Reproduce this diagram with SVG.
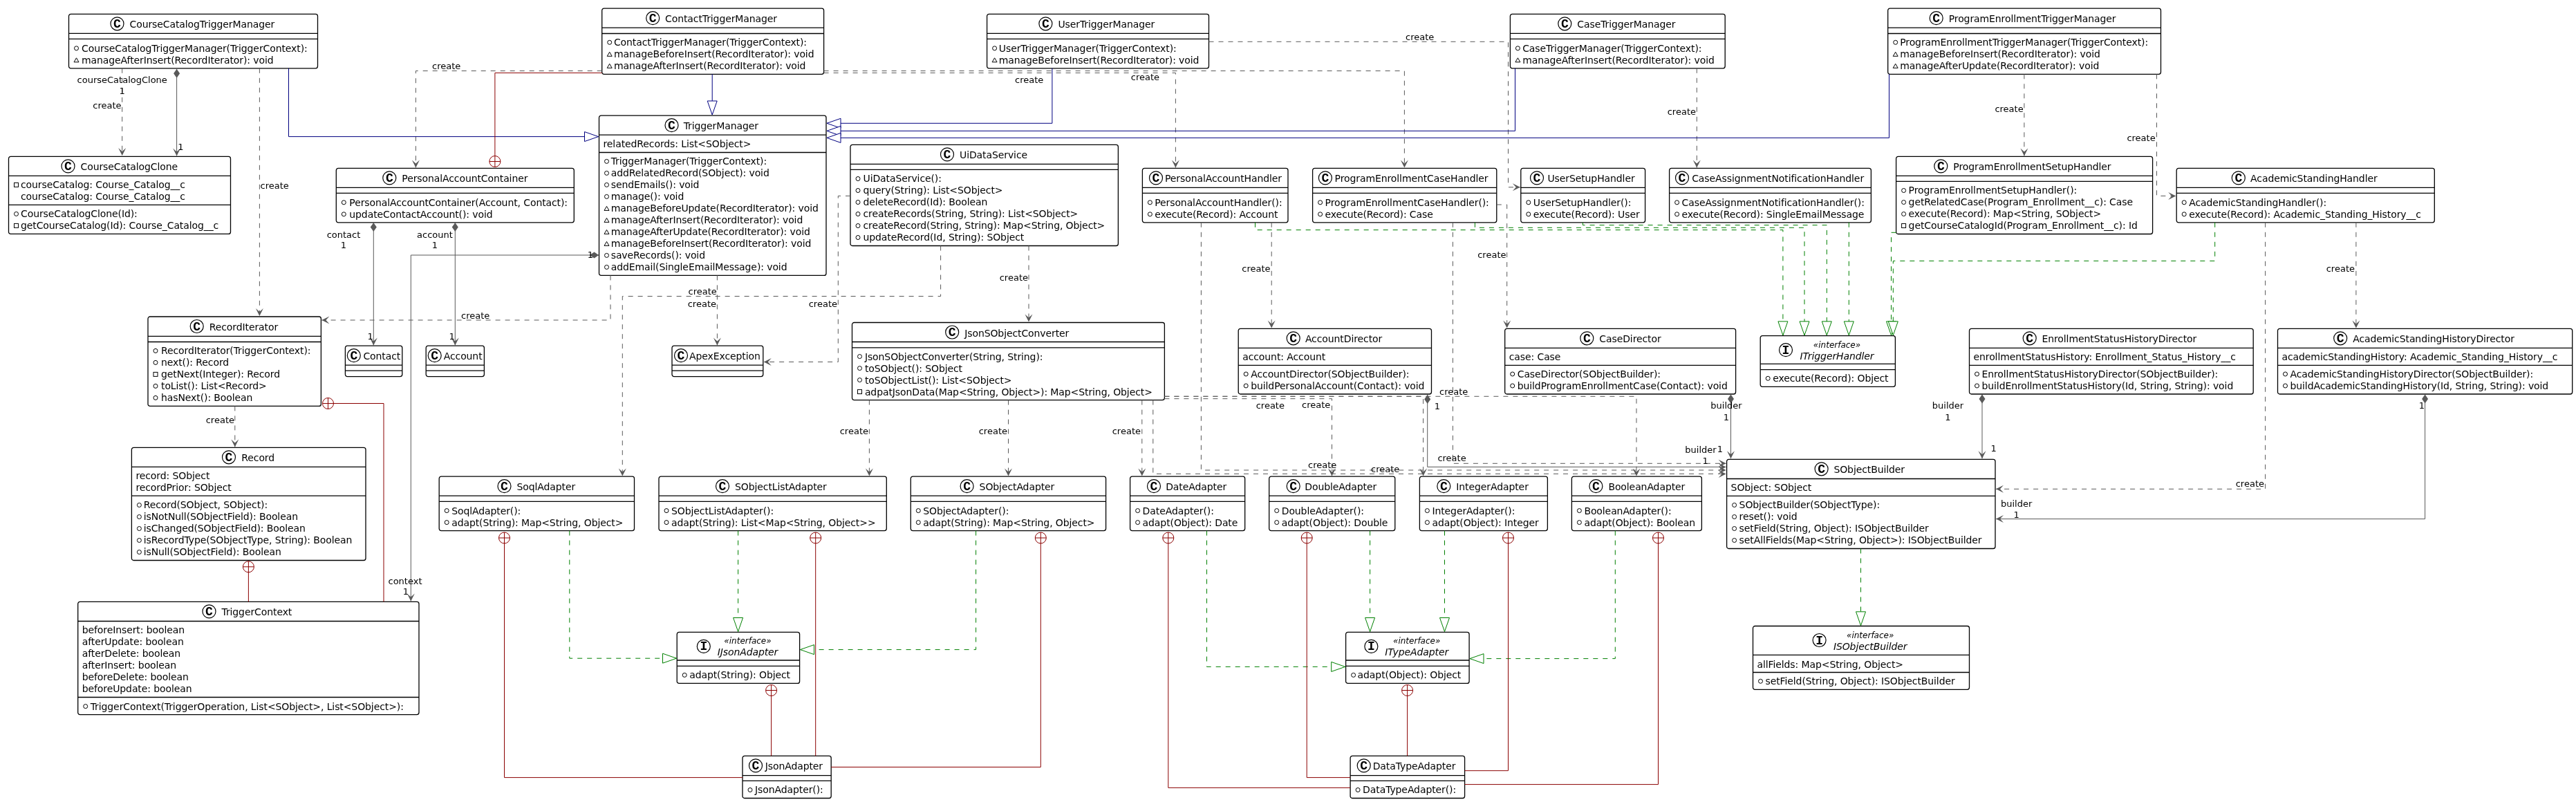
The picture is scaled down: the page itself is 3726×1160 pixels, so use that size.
<svg xmlns="http://www.w3.org/2000/svg" width="3726" height="1160" viewBox="0 0 3726 1160">
<style>
.bx{fill:#fff;stroke:#000;stroke-width:1.3}
.ln{stroke:#000;stroke-width:1.3}
.sp{fill:#fff;stroke:#000;stroke-width:1.2}
.sl{font:bold 18px "Liberation Mono",monospace;text-anchor:middle;fill:#000}
.n{font:14px "DejaVu Sans",sans-serif;letter-spacing:-.1px;fill:#000}
.i{font:italic 14px "DejaVu Sans",sans-serif;letter-spacing:-.1px;text-anchor:middle;fill:#000}
.s{font:italic 12px "DejaVu Sans",sans-serif;text-anchor:middle;fill:#000}
.l{font:13px "DejaVu Sans",sans-serif;fill:#000}
.m{text-anchor:middle}
.e{text-anchor:end}
.v{fill:none;stroke:#000;stroke-width:1}
.d,.a,.b,.g,.r{fill:none;stroke-width:1}
.d{stroke:#595959;stroke-dasharray:7 7;marker-end:url(#ah)}
.a{stroke:#595959;marker-start:url(#dm);marker-end:url(#ah)}
.b{stroke:#000080;marker-end:url(#tb)}
.g{stroke:#008000;stroke-dasharray:7 7;marker-end:url(#tg)}
.r{stroke:#8b0000;marker-start:url(#nc)}
</style>
<defs>
<marker id="ah" markerUnits="userSpaceOnUse" markerWidth="20" markerHeight="20" refX="0" refY="0" orient="auto" overflow="visible"><path d="M0,0L-11,-5.5L-6,0L-11,5.5Z" fill="#595959"/></marker>
<marker id="dm" markerUnits="userSpaceOnUse" markerWidth="20" markerHeight="20" refX="0" refY="0" orient="auto" overflow="visible"><path d="M0,0L6.5,-4.5L13,0L6.5,4.5Z" fill="#595959"/></marker>
<marker id="tb" markerUnits="userSpaceOnUse" markerWidth="30" markerHeight="20" refX="0" refY="0" orient="auto" overflow="visible"><path d="M0,0L-20,-7V7Z" fill="#fff" stroke="#000080"/></marker>
<marker id="tg" markerUnits="userSpaceOnUse" markerWidth="30" markerHeight="20" refX="0" refY="0" orient="auto" overflow="visible"><path d="M0,0L-20,-7V7Z" fill="#fff" stroke="#008000"/></marker>
<marker id="nc" markerUnits="userSpaceOnUse" markerWidth="20" markerHeight="20" refX="0" refY="0" orient="auto" overflow="visible"><circle cx="8" cy="0" r="8" fill="none" stroke="#8b0000"/><path d="M8,-8V8" fill="none" stroke="#8b0000"/></marker>
<circle id="o" r="3" class="v"/>
<path id="p" d="M-3.5,3L0,-3L3.5,3Z" class="v"/>
<rect id="q" x="-3" y="-3" width="6" height="6" class="v"/>
</defs>
<rect width="3726" height="1160" fill="#fff"/>
<g id="nodes" opacity="0.999">
<g id="CourseCatalogTriggerManager" transform="translate(99.5,20.3)"><rect class="bx" width="360" height="78.5" rx="3"/><path class="ln" d="M0,28H360M0,36H360"/><circle class="sp" cx="70" cy="14" r="9.5"/><text class="sl" x="70" y="19.5">C</text><text class="n" x="88" y="20">CourseCatalogTriggerManager</text><use href="#o" x="11" y="49.5"/><text class="n" x="18.5" y="54.5">CourseCatalogTriggerManager(TriggerContext):</text><use href="#p" x="11" y="66.5"/><text class="n" x="18.5" y="71.5">manageAfterInsert(RecordIterator): void</text></g>
<g id="CourseCatalogClone" transform="translate(12.5,226.4)"><rect class="bx" width="321" height="112" rx="3"/><path class="ln" d="M0,28H321M0,70H321"/><circle class="sp" cx="86" cy="14" r="9.5"/><text class="sl" x="86" y="19.5">C</text><text class="n" x="104" y="20">CourseCatalogClone</text><use href="#q" x="11" y="41"/><text class="n" x="17.5" y="46">courseCatalog: Course_Catalog__c</text><text class="n" x="17.5" y="63">courseCatalog: Course_Catalog__c</text><use href="#o" x="11" y="83"/><text class="n" x="17.5" y="88">CourseCatalogClone(Id):</text><use href="#q" x="11" y="100"/><text class="n" x="17.5" y="105">getCourseCatalog(Id): Course_Catalog__c</text></g>
<g id="PersonalAccountContainer" transform="translate(486.3,243.4)"><rect class="bx" width="344" height="78.4" rx="3"/><path class="ln" d="M0,28H344M0,36H344"/><circle class="sp" cx="77" cy="14" r="9.5"/><text class="sl" x="77" y="19.5">C</text><text class="n" x="95" y="20">PersonalAccountContainer</text><use href="#o" x="11" y="49.4"/><text class="n" x="19" y="54.4">PersonalAccountContainer(Account, Contact):</text><use href="#o" x="11" y="66.4"/><text class="n" x="19" y="71.4">updateContactAccount(): void</text></g>
<g id="RecordIterator" transform="translate(214,458)"><rect class="bx" width="250.4" height="129.4" rx="3"/><path class="ln" d="M0,28.4H250.4M0,36.5H250.4"/><circle class="sp" cx="70.7" cy="14" r="9.5"/><text class="sl" x="70.7" y="19.5">C</text><text class="n" x="88.7" y="20">RecordIterator</text><use href="#o" x="11" y="49.4"/><text class="n" x="19" y="54.4">RecordIterator(TriggerContext):</text><use href="#o" x="11" y="66.4"/><text class="n" x="19" y="71.4">next(): Record</text><use href="#q" x="11" y="83.4"/><text class="n" x="19" y="88.4">getNext(Integer): Record</text><use href="#o" x="11" y="100.4"/><text class="n" x="19" y="105.4">toList(): List&lt;Record&gt;</text><use href="#o" x="11" y="117.4"/><text class="n" x="19" y="122.4">hasNext(): Boolean</text></g>
<g id="Contact" transform="translate(499.4,500.2)"><rect class="bx" width="82.4" height="44.4" rx="3"/><path class="ln" d="M0,28H82.4M0,36H82.4"/><circle class="sp" cx="12.4" cy="14" r="9.5"/><text class="sl" x="12.4" y="19.5">C</text><text class="n" x="26" y="20">Contact</text></g>
<g id="Account" transform="translate(616.2,500.2)"><rect class="bx" width="84.2" height="44.4" rx="3"/><path class="ln" d="M0,28H84.2M0,36H84.2"/><circle class="sp" cx="12.5" cy="14" r="9.5"/><text class="sl" x="12.5" y="19.5">C</text><text class="n" x="25.5" y="20">Account</text></g>
<g id="ContactTriggerManager" transform="translate(870.7,12.2)"><rect class="bx" width="320.9" height="95.1" rx="3"/><path class="ln" d="M0,28H320.9M0,36.3H320.9"/><circle class="sp" cx="73.5" cy="14" r="9.5"/><text class="sl" x="73.5" y="19.5">C</text><text class="n" x="91.3" y="20">ContactTriggerManager</text><use href="#o" x="11" y="49.1"/><text class="n" x="17.2" y="54.1">ContactTriggerManager(TriggerContext):</text><use href="#p" x="11" y="66.1"/><text class="n" x="17.2" y="71.1">manageBeforeInsert(RecordIterator): void</text><use href="#p" x="11" y="83.1"/><text class="n" x="17.2" y="88.1">manageAfterInsert(RecordIterator): void</text></g>
<g id="TriggerManager" transform="translate(866.5,167.2)"><rect class="bx" width="328.5" height="231.2" rx="3"/><path class="ln" d="M0,28H328.5M0,53.3H328.5"/><circle class="sp" cx="105" cy="14" r="9.5"/><text class="sl" x="105" y="19.5">C</text><text class="n" x="122.2" y="20">TriggerManager</text><text class="n" x="6" y="46.3">relatedRecords: List&lt;SObject&gt;</text><use href="#o" x="11" y="66.2"/><text class="n" x="17.2" y="71.2">TriggerManager(TriggerContext):</text><use href="#o" x="11" y="83.2"/><text class="n" x="17.2" y="88.2">addRelatedRecord(SObject): void</text><use href="#o" x="11" y="100.2"/><text class="n" x="17.2" y="105.2">sendEmails(): void</text><use href="#o" x="11" y="117.2"/><text class="n" x="17.2" y="122.2">manage(): void</text><use href="#p" x="11" y="134.2"/><text class="n" x="17.2" y="139.2">manageBeforeUpdate(RecordIterator): void</text><use href="#p" x="11" y="151.2"/><text class="n" x="17.2" y="156.2">manageAfterInsert(RecordIterator): void</text><use href="#p" x="11" y="168.2"/><text class="n" x="17.2" y="173.2">manageAfterUpdate(RecordIterator): void</text><use href="#p" x="11" y="185.2"/><text class="n" x="17.2" y="190.2">manageBeforeInsert(RecordIterator): void</text><use href="#o" x="11" y="202.2"/><text class="n" x="17.2" y="207.2">saveRecords(): void</text><use href="#o" x="11" y="219.2"/><text class="n" x="17.2" y="224.2">addEmail(SingleEmailMessage): void</text></g>
<g id="UserTriggerManager" transform="translate(1427.6,20.3)"><rect class="bx" width="320.9" height="78.5" rx="3"/><path class="ln" d="M0,28H320.9M0,36H320.9"/><circle class="sp" cx="84.8" cy="14" r="9.5"/><text class="sl" x="84.8" y="19.5">C</text><text class="n" x="102.8" y="20">UserTriggerManager</text><use href="#o" x="11" y="49.5"/><text class="n" x="17.2" y="54.5">UserTriggerManager(TriggerContext):</text><use href="#p" x="11" y="66.5"/><text class="n" x="17.2" y="71.5">manageBeforeInsert(RecordIterator): void</text></g>
<g id="UiDataService" transform="translate(1230,209.4)"><rect class="bx" width="387.4" height="146.1" rx="3"/><path class="ln" d="M0,28H387.4M0,36H387.4"/><circle class="sp" cx="140" cy="14" r="9.5"/><text class="sl" x="140" y="19.5">C</text><text class="n" x="158" y="20">UiDataService</text><use href="#o" x="11" y="49.1"/><text class="n" x="18.5" y="54.1">UiDataService():</text><use href="#o" x="11" y="66.1"/><text class="n" x="18.5" y="71.1">query(String): List&lt;SObject&gt;</text><use href="#o" x="11" y="83.1"/><text class="n" x="18.5" y="88.1">deleteRecord(Id): Boolean</text><use href="#o" x="11" y="100.1"/><text class="n" x="18.5" y="105.1">createRecords(String, String): List&lt;SObject&gt;</text><use href="#o" x="11" y="117.1"/><text class="n" x="18.5" y="122.1">createRecord(String, String): Map&lt;String, Object&gt;</text><use href="#o" x="11" y="134.1"/><text class="n" x="18.5" y="139.1">updateRecord(Id, String): SObject</text></g>
<g id="ApexException" transform="translate(972,500.2)"><rect class="bx" width="131.8" height="44.4" rx="3"/><path class="ln" d="M0,28H131.8M0,36H131.8"/><circle class="sp" cx="13" cy="14" r="9.5"/><text class="sl" x="13" y="19.5">C</text><text class="n" x="25" y="20">ApexException</text></g>
<g id="JsonSObjectConverter" transform="translate(1232.5,466.5)"><rect class="bx" width="451.9" height="112.1" rx="3"/><path class="ln" d="M0,28H451.9M0,36.3H451.9"/><circle class="sp" cx="144.7" cy="14" r="9.5"/><text class="sl" x="144.7" y="19.5">C</text><text class="n" x="162.7" y="20">JsonSObjectConverter</text><use href="#o" x="11" y="49.1"/><text class="n" x="18.4" y="54.1">JsonSObjectConverter(String, String):</text><use href="#o" x="11" y="66.1"/><text class="n" x="18.4" y="71.1">toSObject(): SObject</text><use href="#o" x="11" y="83.1"/><text class="n" x="18.4" y="88.1">toSObjectList(): List&lt;SObject&gt;</text><use href="#q" x="11" y="100.1"/><text class="n" x="18.4" y="105.1">adpatJsonData(Map&lt;String, Object&gt;): Map&lt;String, Object&gt;</text></g>
<g id="PersonalAccountHandler" transform="translate(1652.4,243.4)"><rect class="bx" width="210.6" height="78.4" rx="3"/><path class="ln" d="M0,28H210.6M0,36H210.6"/><circle class="sp" cx="19.6" cy="14" r="9.5"/><text class="sl" x="19.6" y="19.5">C</text><text class="n" x="32.6" y="20">PersonalAccountHandler</text><use href="#o" x="11" y="49.4"/><text class="n" x="17.8" y="54.4">PersonalAccountHandler():</text><use href="#o" x="11" y="66.4"/><text class="n" x="17.8" y="71.4">execute(Record): Account</text></g>
<g id="AccountDirector" transform="translate(1791.2,475.3)"><rect class="bx" width="279.3" height="94.7" rx="3"/><path class="ln" d="M0,28H279.3M0,53H279.3"/><circle class="sp" cx="79.5" cy="14" r="9.5"/><text class="sl" x="79.5" y="19.5">C</text><text class="n" x="96.7" y="20">AccountDirector</text><text class="n" x="6" y="46">account: Account</text><use href="#o" x="11" y="65.7"/><text class="n" x="18" y="70.7">AccountDirector(SObjectBuilder):</text><use href="#o" x="11" y="82.7"/><text class="n" x="18" y="87.7">buildPersonalAccount(Contact): void</text></g>
<g id="ProgramEnrollmentCaseHandler" transform="translate(1898.6,243.4)"><rect class="bx" width="266.2" height="78.4" rx="3"/><path class="ln" d="M0,28H266.2M0,36H266.2"/><circle class="sp" cx="18.3" cy="14" r="9.5"/><text class="sl" x="18.3" y="19.5">C</text><text class="n" x="32" y="20">ProgramEnrollmentCaseHandler</text><use href="#o" x="11" y="49.4"/><text class="n" x="18" y="54.4">ProgramEnrollmentCaseHandler():</text><use href="#o" x="11" y="66.4"/><text class="n" x="18" y="71.4">execute(Record): Case</text></g>
<g id="UserSetupHandler" transform="translate(2199.8,243.4)"><rect class="bx" width="179.8" height="78.4" rx="3"/><path class="ln" d="M0,28H179.8M0,36H179.8"/><circle class="sp" cx="23.2" cy="14" r="9.5"/><text class="sl" x="23.2" y="19.5">C</text><text class="n" x="38.6" y="20">UserSetupHandler</text><use href="#o" x="11" y="49.4"/><text class="n" x="18" y="54.4">UserSetupHandler():</text><use href="#o" x="11" y="66.4"/><text class="n" x="18" y="71.4">execute(Record): User</text></g>
<g id="CaseAssignmentNotificationHandler" transform="translate(2414.6,243.4)"><rect class="bx" width="291.8" height="78.4" rx="3"/><path class="ln" d="M0,28H291.8M0,36H291.8"/><circle class="sp" cx="18.4" cy="14" r="9.5"/><text class="sl" x="18.4" y="19.5">C</text><text class="n" x="32.6" y="20">CaseAssignmentNotificationHandler</text><use href="#o" x="11" y="49.4"/><text class="n" x="18" y="54.4">CaseAssignmentNotificationHandler():</text><use href="#o" x="11" y="66.4"/><text class="n" x="18" y="71.4">execute(Record): SingleEmailMessage</text></g>
<g id="CaseTriggerManager" transform="translate(2184.4,20.3)"><rect class="bx" width="310.8" height="78.5" rx="3"/><path class="ln" d="M0,28H310.8M0,36H310.8"/><circle class="sp" cx="78.9" cy="14" r="9.5"/><text class="sl" x="78.9" y="19.5">C</text><text class="n" x="96.9" y="20">CaseTriggerManager</text><use href="#o" x="11" y="49.5"/><text class="n" x="17.8" y="54.5">CaseTriggerManager(TriggerContext):</text><use href="#p" x="11" y="66.5"/><text class="n" x="17.8" y="71.5">manageAfterInsert(RecordIterator): void</text></g>
<g id="ProgramEnrollmentTriggerManager" transform="translate(2730.7,12.2)"><rect class="bx" width="394.8" height="95.1" rx="3"/><path class="ln" d="M0,28H394.8M0,36.3H394.8"/><circle class="sp" cx="70" cy="14" r="9.5"/><text class="sl" x="70" y="19.5">C</text><text class="n" x="88" y="20">ProgramEnrollmentTriggerManager</text><use href="#o" x="11" y="49.1"/><text class="n" x="17.5" y="54.1">ProgramEnrollmentTriggerManager(TriggerContext):</text><use href="#p" x="11" y="66.1"/><text class="n" x="17.5" y="71.1">manageBeforeInsert(RecordIterator): void</text><use href="#p" x="11" y="83.1"/><text class="n" x="17.5" y="88.1">manageAfterUpdate(RecordIterator): void</text></g>
<g id="ProgramEnrollmentSetupHandler" transform="translate(2742.6,226.4)"><rect class="bx" width="371" height="112.1" rx="3"/><path class="ln" d="M0,28H371M0,36H371"/><circle class="sp" cx="64.7" cy="14" r="9.5"/><text class="sl" x="64.7" y="19.5">C</text><text class="n" x="82.7" y="20">ProgramEnrollmentSetupHandler</text><use href="#o" x="11" y="49.1"/><text class="n" x="18" y="54.1">ProgramEnrollmentSetupHandler():</text><use href="#o" x="11" y="66.1"/><text class="n" x="18" y="71.1">getRelatedCase(Program_Enrollment__c): Case</text><use href="#o" x="11" y="83.1"/><text class="n" x="18" y="88.1">execute(Record): Map&lt;String, SObject&gt;</text><use href="#q" x="11" y="100.1"/><text class="n" x="18" y="105.1">getCourseCatalogId(Program_Enrollment__c): Id</text></g>
<g id="AcademicStandingHandler" transform="translate(3148.2,243.4)"><rect class="bx" width="373.1" height="78.4" rx="3"/><path class="ln" d="M0,28H373.1M0,36H373.1"/><circle class="sp" cx="89.6" cy="14" r="9.5"/><text class="sl" x="89.6" y="19.5">C</text><text class="n" x="106.9" y="20">AcademicStandingHandler</text><use href="#o" x="11" y="49.4"/><text class="n" x="18" y="54.4">AcademicStandingHandler():</text><use href="#o" x="11" y="66.4"/><text class="n" x="18" y="71.4">execute(Record): Academic_Standing_History__c</text></g>
<g id="CaseDirector" transform="translate(2176.7,475.3)"><rect class="bx" width="333.9" height="94.7" rx="3"/><path class="ln" d="M0,28H333.9M0,53H333.9"/><circle class="sp" cx="118.6" cy="14" r="9.5"/><text class="sl" x="118.6" y="19.5">C</text><text class="n" x="136.6" y="20">CaseDirector</text><text class="n" x="6" y="46">case: Case</text><use href="#o" x="11" y="65.7"/><text class="n" x="18" y="70.7">CaseDirector(SObjectBuilder):</text><use href="#o" x="11" y="82.7"/><text class="n" x="18" y="87.7">buildProgramEnrollmentCase(Contact): void</text></g>
<g id="ITriggerHandler" transform="translate(2546.2,485.7)"><rect class="bx" width="195.2" height="73.6" rx="3"/><path class="ln" d="M0,40.7H195.2M0,48.9H195.2"/><circle class="sp" cx="36.8" cy="20.5" r="9.5"/><text class="sl" x="36.8" y="26">I</text><text class="s" x="110.8" y="17">«interface»</text><text class="i" x="110.8" y="34">ITriggerHandler</text><use href="#o" x="11" y="61.6"/><text class="n" x="18" y="66.6">execute(Record): Object</text></g>
<g id="EnrollmentStatusHistoryDirector" transform="translate(2848.5,475.3)"><rect class="bx" width="410.7" height="94.7" rx="3"/><path class="ln" d="M0,28H410.7M0,53H410.7"/><circle class="sp" cx="87.2" cy="14" r="9.5"/><text class="sl" x="87.2" y="19.5">C</text><text class="n" x="105" y="20">EnrollmentStatusHistoryDirector</text><text class="n" x="6" y="46">enrollmentStatusHistory: Enrollment_Status_History__c</text><use href="#o" x="11" y="65.7"/><text class="n" x="18" y="70.7">EnrollmentStatusHistoryDirector(SObjectBuilder):</text><use href="#o" x="11" y="82.7"/><text class="n" x="18" y="87.7">buildEnrollmentStatusHistory(Id, String, String): void</text></g>
<g id="AcademicStandingHistoryDirector" transform="translate(3294.5,475.3)"><rect class="bx" width="426.2" height="94.7" rx="3"/><path class="ln" d="M0,28H426.2M0,53H426.2"/><circle class="sp" cx="90.7" cy="14" r="9.5"/><text class="sl" x="90.7" y="19.5">C</text><text class="n" x="108.7" y="20">AcademicStandingHistoryDirector</text><text class="n" x="6" y="46">academicStandingHistory: Academic_Standing_History__c</text><use href="#o" x="11" y="65.7"/><text class="n" x="18" y="70.7">AcademicStandingHistoryDirector(SObjectBuilder):</text><use href="#o" x="11" y="82.7"/><text class="n" x="18" y="87.7">buildAcademicStandingHistory(Id, String, String): void</text></g>
<g id="Record" transform="translate(190.4,647.3)"><rect class="bx" width="338.6" height="163.2" rx="3"/><path class="ln" d="M0,28.1H338.6M0,69.9H338.6"/><circle class="sp" cx="140.6" cy="14" r="9.5"/><text class="sl" x="140.6" y="19.5">C</text><text class="n" x="158.9" y="20">Record</text><text class="n" x="6" y="45.9">record: SObject</text><text class="n" x="6" y="62.9">recordPrior: SObject</text><use href="#o" x="11" y="83.2"/><text class="n" x="17.3" y="88.2">Record(SObject, SObject):</text><use href="#o" x="11" y="100.2"/><text class="n" x="17.3" y="105.2">isNotNull(SObjectField): Boolean</text><use href="#o" x="11" y="117.2"/><text class="n" x="17.3" y="122.2">isChanged(SObjectField): Boolean</text><use href="#o" x="11" y="134.2"/><text class="n" x="17.3" y="139.2">isRecordType(SObjectType, String): Boolean</text><use href="#o" x="11" y="151.2"/><text class="n" x="17.3" y="156.2">isNull(SObjectField): Boolean</text></g>
<g id="TriggerContext" transform="translate(112.7,870.4)"><rect class="bx" width="493.3" height="163.2" rx="3"/><path class="ln" d="M0,28.1H493.3M0,138.1H493.3"/><circle class="sp" cx="189.8" cy="14" r="9.5"/><text class="sl" x="189.8" y="19.5">C</text><text class="n" x="207.8" y="20">TriggerContext</text><text class="n" x="6" y="46.1">beforeInsert: boolean</text><text class="n" x="6" y="63.1">afterUpdate: boolean</text><text class="n" x="6" y="80.1">afterDelete: boolean</text><text class="n" x="6" y="97.1">afterInsert: boolean</text><text class="n" x="6" y="114.1">beforeDelete: boolean</text><text class="n" x="6" y="131.1">beforeUpdate: boolean</text><use href="#o" x="11" y="151.2"/><text class="n" x="18" y="156.2">TriggerContext(TriggerOperation, List&lt;SObject&gt;, List&lt;SObject&gt;):</text></g>
<g id="SoqlAdapter" transform="translate(635.2,689.2)"><rect class="bx" width="282.3" height="78.4" rx="3"/><path class="ln" d="M0,28H282.3M0,36.2H282.3"/><circle class="sp" cx="94.3" cy="14" r="9.5"/><text class="sl" x="94.3" y="19.5">C</text><text class="n" x="112.3" y="20">SoqlAdapter</text><use href="#o" x="11" y="49.4"/><text class="n" x="18" y="54.4">SoqlAdapter():</text><use href="#o" x="11" y="66.4"/><text class="n" x="18" y="71.4">adapt(String): Map&lt;String, Object&gt;</text></g>
<g id="SObjectListAdapter" transform="translate(953,689.2)"><rect class="bx" width="329.3" height="78.4" rx="3"/><path class="ln" d="M0,28H329.3M0,36.2H329.3"/><circle class="sp" cx="92" cy="14" r="9.5"/><text class="sl" x="92" y="19.5">C</text><text class="n" x="110" y="20">SObjectListAdapter</text><use href="#o" x="11" y="49.4"/><text class="n" x="18" y="54.4">SObjectListAdapter():</text><use href="#o" x="11" y="66.4"/><text class="n" x="18" y="71.4">adapt(String): List&lt;Map&lt;String, Object&gt;&gt;</text></g>
<g id="SObjectAdapter" transform="translate(1317.3,689.2)"><rect class="bx" width="282.3" height="78.4" rx="3"/><path class="ln" d="M0,28H282.3M0,36.2H282.3"/><circle class="sp" cx="81.3" cy="14" r="9.5"/><text class="sl" x="81.3" y="19.5">C</text><text class="n" x="99.3" y="20">SObjectAdapter</text><use href="#o" x="11" y="49.4"/><text class="n" x="18" y="54.4">SObjectAdapter():</text><use href="#o" x="11" y="66.4"/><text class="n" x="18" y="71.4">adapt(String): Map&lt;String, Object&gt;</text></g>
<g id="DateAdapter" transform="translate(1634.6,689.2)"><rect class="bx" width="166.1" height="78.4" rx="3"/><path class="ln" d="M0,28H166.1M0,36.2H166.1"/><circle class="sp" cx="34.4" cy="14" r="9.5"/><text class="sl" x="34.4" y="19.5">C</text><text class="n" x="51.6" y="20">DateAdapter</text><use href="#o" x="11" y="49.4"/><text class="n" x="18" y="54.4">DateAdapter():</text><use href="#o" x="11" y="66.4"/><text class="n" x="18" y="71.4">adapt(Object): Date</text></g>
<g id="DoubleAdapter" transform="translate(1835.7,689.2)"><rect class="bx" width="182.1" height="78.4" rx="3"/><path class="ln" d="M0,28H182.1M0,36.2H182.1"/><circle class="sp" cx="35" cy="14" r="9.5"/><text class="sl" x="35" y="19.5">C</text><text class="n" x="51.6" y="20">DoubleAdapter</text><use href="#o" x="11" y="49.4"/><text class="n" x="18" y="54.4">DoubleAdapter():</text><use href="#o" x="11" y="66.4"/><text class="n" x="18" y="71.4">adapt(Object): Double</text></g>
<g id="IntegerAdapter" transform="translate(2053.4,689.2)"><rect class="bx" width="185" height="78.4" rx="3"/><path class="ln" d="M0,28H185M0,36.2H185"/><circle class="sp" cx="34.9" cy="14" r="9.5"/><text class="sl" x="34.9" y="19.5">C</text><text class="n" x="52.9" y="20">IntegerAdapter</text><use href="#o" x="11" y="49.4"/><text class="n" x="18" y="54.4">IntegerAdapter():</text><use href="#o" x="11" y="66.4"/><text class="n" x="18" y="71.4">adapt(Object): Integer</text></g>
<g id="BooleanAdapter" transform="translate(2273.4,689.2)"><rect class="bx" width="188" height="78.4" rx="3"/><path class="ln" d="M0,28H188M0,36.2H188"/><circle class="sp" cx="35" cy="14" r="9.5"/><text class="sl" x="35" y="19.5">C</text><text class="n" x="53" y="20">BooleanAdapter</text><use href="#o" x="11" y="49.4"/><text class="n" x="18" y="54.4">BooleanAdapter():</text><use href="#o" x="11" y="66.4"/><text class="n" x="18" y="71.4">adapt(Object): Boolean</text></g>
<g id="IJsonAdapter" transform="translate(979.2,914.4)"><rect class="bx" width="177.4" height="74" rx="3"/><path class="ln" d="M0,40.6H177.4M0,49H177.4"/><circle class="sp" cx="38.6" cy="20.5" r="9.5"/><text class="sl" x="38.6" y="26">I</text><text class="s" x="102.3" y="17">«interface»</text><text class="i" x="102.3" y="34">IJsonAdapter</text><use href="#o" x="11" y="62"/><text class="n" x="18" y="67">adapt(String): Object</text></g>
<g id="JsonAdapter" transform="translate(1074,1093.4)"><rect class="bx" width="128.2" height="61.1" rx="3"/><path class="ln" d="M0,28.2H128.2M0,36H128.2"/><circle class="sp" cx="19" cy="14" r="9.5"/><text class="sl" x="19" y="19.5">C</text><text class="n" x="32.7" y="20">JsonAdapter</text><use href="#o" x="11" y="49.1"/><text class="n" x="18" y="54.1">JsonAdapter():</text></g>
<g id="ITypeAdapter" transform="translate(1946.6,914.4)"><rect class="bx" width="178.5" height="74" rx="3"/><path class="ln" d="M0,40.6H178.5M0,49H178.5"/><circle class="sp" cx="36.8" cy="20.5" r="9.5"/><text class="sl" x="36.8" y="26">I</text><text class="s" x="102.6" y="17">«interface»</text><text class="i" x="102.6" y="34">ITypeAdapter</text><use href="#o" x="11" y="62"/><text class="n" x="17" y="67">adapt(Object): Object</text></g>
<g id="DataTypeAdapter" transform="translate(1953.1,1093.4)"><rect class="bx" width="165.5" height="61.1" rx="3"/><path class="ln" d="M0,28.2H165.5M0,36H165.5"/><circle class="sp" cx="19.6" cy="14" r="9.5"/><text class="sl" x="19.6" y="19.5">C</text><text class="n" x="32.6" y="20">DataTypeAdapter</text><use href="#o" x="11" y="49.1"/><text class="n" x="18" y="54.1">DataTypeAdapter():</text></g>
<g id="SObjectBuilder" transform="translate(2497.6,664.3)"><rect class="bx" width="388.4" height="129.2" rx="3"/><path class="ln" d="M0,28.2H388.4M0,53H388.4"/><circle class="sp" cx="137" cy="14" r="9.5"/><text class="sl" x="137" y="19.5">C</text><text class="n" x="154.8" y="20">SObjectBuilder</text><text class="n" x="6" y="46">SObject: SObject</text><use href="#o" x="11" y="66.2"/><text class="n" x="18" y="71.2">SObjectBuilder(SObjectType):</text><use href="#o" x="11" y="83.2"/><text class="n" x="18" y="88.2">reset(): void</text><use href="#o" x="11" y="100.2"/><text class="n" x="18" y="105.2">setField(String, Object): ISObjectBuilder</text><use href="#o" x="11" y="117.2"/><text class="n" x="18" y="122.2">setAllFields(Map&lt;String, Object&gt;): ISObjectBuilder</text></g>
<g id="ISObjectBuilder" transform="translate(2535.5,905.5)"><rect class="bx" width="313" height="91.8" rx="3"/><path class="ln" d="M0,41.8H313M0,67H313"/><circle class="sp" cx="96.1" cy="20.5" r="9.5"/><text class="sl" x="96.1" y="26">I</text><text class="s" x="169.7" y="17.5">«interface»</text><text class="i" x="169.7" y="34">ISObjectBuilder</text><text class="n" x="6" y="60">allFields: Map&lt;String, Object&gt;</text><use href="#o" x="11" y="79.8"/><text class="n" x="18" y="84.8">setField(String, Object): ISObjectBuilder</text></g>
</g>
<g id="connectors" opacity="0.999">
<path class="d" d="M176.7,98.8V225"/>
<path class="d" d="M375.4,98.8V457"/>
<path class="d" d="M870.7,102.5H601.4V242.5"/>
<path class="d" d="M883,398.4V463H465.4"/>
<path class="d" d="M339.8,587.4V646.5"/>
<path class="d" d="M1230,283.4H1212.3V523.5H1104.8"/>
<path class="d" d="M1360.6,355.5V428.5H900.3V688.5"/>
<path class="d" d="M1037.4,398.4V499.5"/>
<path class="d" d="M1488,355.5V465.5"/>
<path class="d" d="M1191.6,105.4H1700.4V242.5"/>
<path class="d" d="M1191.6,102.5H2031.4V242.5"/>
<path class="d" d="M1748.5,60.3H2181.5V270.8H2198.8"/>
<path class="d" d="M2164.8,296H2179.7V474.5"/>
<path class="d" d="M2454.3,98.8V242.5"/>
<path class="d" d="M2927.9,107.3V225.5"/>
<path class="d" d="M3119.5,107.3V283.4H3147.2"/>
<path class="d" d="M1839.2,321.8V474.5"/>
<path class="d" d="M1257.4,578.6V688.5"/>
<path class="d" d="M1458.5,578.6V688.5"/>
<path class="d" d="M1651.8,578.6V688.5"/>
<path class="d" d="M1667.8,578.6V685.4H2496.6"/>
<path class="d" d="M1737.4,321.8V680H2496.6"/>
<path class="d" d="M2101.4,321.8V670.3H2496.6"/>
<path class="d" d="M1684.4,573.3H2367V688.5"/>
<path class="d" d="M1684.4,576.7H1926.5V688.5"/>
<path class="d" d="M1684.4,573.3H2058.6V688.5"/>
<path class="d" d="M3407.9,321.8V474.5"/>
<path class="d" d="M3276.6,321.8V707.3H2887"/>
<path class="a" d="M255.6,99.8V225.5"/>
<path class="a" d="M540.3,322V499.5"/>
<path class="a" d="M658.3,322V499.5"/>
<path class="a" d="M866,369H594.3V869.5"/>
<path class="a" d="M2064.7,571V675.4H2496.6"/>
<path class="a" d="M2503.5,570.5V663.3"/>
<path class="a" d="M2867,570.5V663.3"/>
<path class="a" d="M3507.6,570.5V750.6H2887"/>
<path class="b" d="M417.5,98.8V197.6H865.5"/>
<path class="b" d="M1030.2,107.3V166"/>
<path class="b" d="M1521.9,98.8V178.3H1196"/>
<path class="b" d="M2191.5,98.8V189.4H1196"/>
<path class="b" d="M2732.5,107.3V199.4H1196"/>
<path class="g" d="M823.8,767.6V952.2H978.5"/>
<path class="g" d="M1067.6,767.6V913.5"/>
<path class="g" d="M1411.6,767.6V939.6H1157.5"/>
<path class="g" d="M1745.5,767.6V964.4H1945.7"/>
<path class="g" d="M1981.6,767.6V913.5"/>
<path class="g" d="M2089.5,767.6V913.5"/>
<path class="g" d="M2336.3,767.6V952.6H2126"/>
<path class="g" d="M2691.5,793.5V904.8"/>
<path class="g" d="M1815.5,321.8V332.6H2578.9V484.9"/>
<path class="g" d="M2133.4,321.8V329.3H2610V484.9"/>
<path class="g" d="M2289.4,321.8V325.6H2642.3V484.9"/>
<path class="g" d="M2674.3,321.8V484.9"/>
<path class="g" d="M2742.6,336.3H2735.5V484.9"/>
<path class="g" d="M3203.7,321.8V377.4H2738.3V484.9"/>
<path class="r" d="M729.5,770V1124.6H1074"/>
<path class="r" d="M1179.7,770V1093.4"/>
<path class="r" d="M1505.3,770V1109.5H1202.2"/>
<path class="r" d="M1115.6,990.5V1093.4"/>
<path class="r" d="M1689.8,770V1139.4H1953.1"/>
<path class="r" d="M1890.2,770V1124.6H1953.1"/>
<path class="r" d="M2181.5,770V1114.7H2118.6"/>
<path class="r" d="M2398.5,770V1134.6H2118.6"/>
<path class="r" d="M2035.6,990.5V1093.4"/>
<path class="r" d="M715.9,241.5V105.4H870.7"/>
<path class="r" d="M466.5,583.5H555V870.4"/>
<path class="r" d="M359.4,811.8V870.4"/>
<text class="l m" x="176.7" y="120.3">courseCatalogClone</text><text class="l m" x="176.7" y="135.5">1</text>
<text class="l e" x="175.6" y="156.5">create</text>
<text class="l m" x="261.5" y="216.5">1</text>
<text class="l" x="376.6" y="272.5">create</text>
<text class="l" x="625" y="99.5">create</text>
<text class="l m" x="497" y="343.5">contact</text><text class="l m" x="497" y="358.5">1</text><text class="l m" x="535.6" y="490.5">1</text>
<text class="l m" x="629" y="343.5">account</text><text class="l m" x="629" y="358.5">1</text><text class="l m" x="653.6" y="490.5">1</text>
<text class="l" x="667" y="460.5">create</text>
<text class="l m" x="854" y="372.5">1</text>
<text class="l m" x="586" y="844.5">context</text><text class="l m" x="587" y="859.5">1</text>
<text class="l e" x="339" y="611.5">create</text>
<text class="l e" x="1211" y="443.5">create</text>
<text class="l e" x="1036.8" y="425.5">create</text>
<text class="l e" x="1036" y="443.5">create</text>
<text class="l e" x="1487" y="405.5">create</text>
<text class="l" x="1635.8" y="116">create</text>
<text class="l" x="1468" y="119.5">create</text>
<text class="l" x="2033" y="57.5">create</text>
<text class="l e" x="2178.5" y="372.5">create</text>
<text class="l e" x="2453" y="165.5">create</text>
<text class="l e" x="2926.7" y="161.5">create</text>
<text class="l e" x="3117.7" y="203.5">create</text>
<text class="l e" x="1837.6" y="392.5">create</text>
<text class="l e" x="1256" y="628">create</text>
<text class="l e" x="1457" y="628">create</text>
<text class="l e" x="1650" y="628">create</text>
<text class="l" x="1816.7" y="591">create</text>
<text class="l" x="1883" y="589.5">create</text>
<text class="l" x="2082" y="570.5">create</text>
<text class="l" x="2079.4" y="667">create</text>
<text class="l" x="1892" y="677.2">create</text>
<text class="l" x="1983" y="682.5">create</text>
<text class="l e" x="3275" y="703.5">create</text>
<text class="l e" x="3406" y="392.5">create</text>
<text class="l m" x="2079" y="591.5">1</text>
<text class="l m" x="2460" y="654.8">builder</text><text class="l m" x="2466.7" y="670.5">1</text>
<text class="l m" x="2497" y="591">builder</text><text class="l m" x="2497" y="607.5">1</text>
<text class="l m" x="2488" y="653.5">1</text>
<text class="l m" x="2817.5" y="591">builder</text><text class="l m" x="2817.5" y="607.5">1</text>
<text class="l m" x="2883.7" y="653.3">1</text>
<text class="l m" x="2916.6" y="732.5">builder</text><text class="l m" x="2916.6" y="748.5">1</text>
<text class="l m" x="3503" y="591">1</text>
</g>
</svg>
